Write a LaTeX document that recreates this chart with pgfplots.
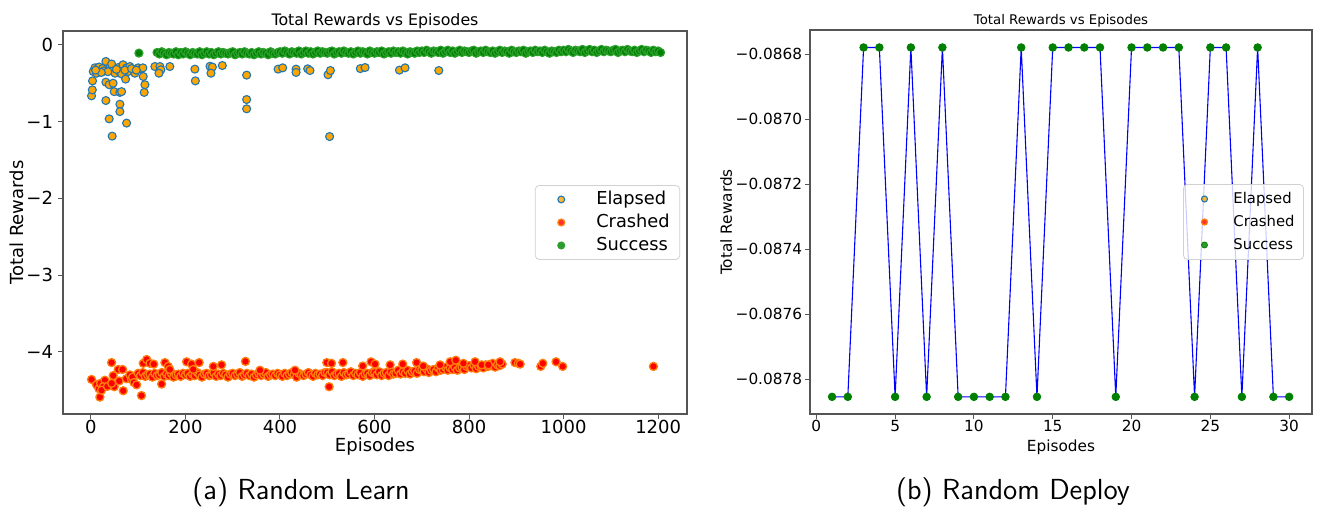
\documentclass[border=0pt]{standalone}
\usepackage{pgfplots}
\pgfplotsset{compat=1.18}
\usepackage{fontspec}
\setmainfont{DejaVu Sans}
\definecolor{mplblue}{HTML}{1F77B4}
\definecolor{mplorange}{HTML}{FF7F0E}
\definecolor{mplgreen}{HTML}{2CA02C}
\definecolor{orangefill}{HTML}{FFA500}
\definecolor{greenfill}{HTML}{008000}
\definecolor{spine}{HTML}{555555}
\pgfplotsset{
  common/.style={
    scale only axis,
    axis line style={draw=spine, line width=0.6pt},
    tick style={draw=spine, line width=0.5pt},
    major tick length=2.45pt,
    tick align=outside,
    xtick pos=bottom, ytick pos=left,
    legend cell align=left,
    every axis title shift=0pt,
    xticklabel style={yshift=3pt},
    scaled ticks=false,
  },
  elapsed/.style={only marks, mark=*, mark size=2pt, mark options={fill=orangefill, draw=mplblue, line width=0.55pt}},
  crashed/.style={only marks, mark=*, mark size=2pt, mark options={fill=red, draw=mplorange, line width=0.65pt}},
  success/.style={only marks, mark=*, mark size=2pt, mark options={fill=greenfill, draw=mplgreen, line width=0.6pt}},
}
\begin{document}
\begin{tikzpicture}
\useasboundingbox (-31.5pt,-50pt) rectangle (630pt,207pt);
% ---------------- left ----------------
\begin{axis}[common,
  at={(0pt,0pt)}, anchor=south west,
  width=312pt, height=191.5pt,
  xmin=-59, xmax=1261, ymin=-4.81, ymax=0.18,
  xtick={0,200,400,600,800,1000,1200},
  xticklabels={0,200,400,600,800,1000,1200},
  ytick={-4,-3,-2,-1,0},
  yticklabels={−4,−3,−2,−1,0},
  ticklabel style={font=\fontsize{9}{10}\selectfont},
  yticklabel style={xshift=1pt},
  xlabel={Episodes}, ylabel={Total Rewards},
  label style={font=\fontsize{9}{10}\selectfont},
  xlabel style={at={(axis description cs:0.5,-0.0862)}, anchor=center},
  ylabel style={at={(axis description cs:-0.0737,0.5)}, anchor=center},
  title={Total Rewards vs Episodes},
  title style={font=\fontsize{7.9}{9}\selectfont, at={(axis description cs:0.5,1.027)}, anchor=center},
  legend image code/.code={\path[draw=none,fill=none] (-9.5pt,-3pt) rectangle (9.5pt,3pt); \draw[#1,only marks,mark size=1.7pt] plot coordinates {(0pt,0pt)};},
  legend style={at={(0.989,0.5)}, anchor=east, font=\fontsize{8.9}{10}\selectfont,
    draw=black!18, rounded corners=2pt, fill=white, fill opacity=0.8, text opacity=1,
    inner xsep=3.5pt, inner ysep=1.25pt, row sep=0pt,
    nodes={inner sep=1.5pt, text height=6.6pt, text depth=1.9pt},
    /tikz/every odd column/.append style={column sep=6.5pt}},
]
\addplot[elapsed] coordinates {
(1.4,-0.665)(3,-0.587)(3.5,-0.47)(5,-0.348)(8.5,-0.30)(12,-0.37)(15.5,-0.296)(19,-0.326)(17.6,-0.29)
(31.7,-0.217)(33,-0.326)(40,-0.30)(43.8,-0.25)(47,-0.34)(58,-0.296)(68,-0.26)(75.5,-0.30)(82.5,-0.283)
(89.5,-0.326)(100,-0.30)(107,-0.313)(110,-0.30)(51,-0.37)(61,-0.348)(65,-0.38)(79,-0.348)(93,-0.37)
(25,-0.31)(28,-0.34)(36,-0.35)(54,-0.32)(72,-0.33)(86,-0.31)(96,-0.33)(22,-0.36)(10,-0.33)
(31.7,-0.487)(38.7,-0.52)(47,-0.50)(73.4,-0.447)(49.3,-0.61)(61.4,-0.62)(65,-0.61)(31.7,-0.726)
(61.4,-0.774)(61.4,-0.87)(38.7,-0.965)(75.5,-1.02)(45,-1.19)
(110.7,-0.413)(114.3,-0.52)(112.8,-0.62)(135.4,-0.283)(146,-0.283)(148,-0.326)(144,-0.37)(167,-0.283)
(220,-0.317)(221,-0.47)(252,-0.28)(257,-0.29)(254,-0.37)(278,-0.27)
(329.5,-0.395)(329.5,-0.713)(329.5,-0.834)(396,-0.317)(405.7,-0.30)(434,-0.317)(434,-0.36)
(458.6,-0.313)(463.5,-0.335)(501.6,-0.39)(506.7,-0.335)(505,-1.195)(570,-0.31)(580,-0.296)
(652.7,-0.33)(664.6,-0.30)(736,-0.335)
};
\addlegendentry{Elapsed}
\addplot[crashed] coordinates {
(1.4,-4.36)(12,-4.43)(19,-4.59)(17,-4.48)(20.5,-4.41)(29.6,-4.37)(26,-4.455)(22.6,-4.50)(35,-4.45)
(43.8,-4.14)(47.2,-4.31)(49.4,-4.455)(44,-4.41)(57.8,-4.23)(60,-4.38)(67,-4.23)(68.4,-4.507)(75,-4.35)
(82.5,-4.30)(86,-4.36)(88,-4.33)(91,-4.40)(96.7,-4.43)(107,-4.57)
(100,-4.28)(105,-4.31)(110,-4.27)(115,-4.32)(120,-4.30)(125,-4.29)(130,-4.33)(135,-4.28)(140,-4.31)(145,-4.30)
(150,-4.27)(155,-4.32)(160,-4.29)(165,-4.31)(170,-4.28)(175,-4.33)(180,-4.30)(185,-4.29)(190,-4.32)(195,-4.28)
(200,-4.30)(205,-4.28)(210,-4.32)(215,-4.29)(220,-4.31)(225,-4.27)(230,-4.30)(235,-4.33)(240,-4.29)(245,-4.28)
(250,-4.31)(255,-4.30)(260,-4.27)(265,-4.32)(270,-4.29)(275,-4.31)(280,-4.28)(285,-4.30)(290,-4.33)(295,-4.29)
(300,-4.28)(305,-4.31)(310,-4.29)(315,-4.27)(320,-4.32)(325,-4.30)(330,-4.28)(335,-4.31)(340,-4.29)(345,-4.33)
(350,-4.30)(355,-4.28)(360,-4.31)(365,-4.29)(370,-4.27)(375,-4.32)(380,-4.30)(385,-4.29)(390,-4.31)(395,-4.28)
(400,-4.30)(405,-4.32)(410,-4.28)(415,-4.31)(420,-4.29)(425,-4.27)(430,-4.30)(435,-4.33)(440,-4.28)(445,-4.30)
(450,-4.31)(455,-4.29)(460,-4.27)(465,-4.30)(470,-4.32)(475,-4.28)(480,-4.30)(485,-4.29)(490,-4.31)(495,-4.27)
(500,-4.27)(505,-4.30)(510,-4.26)(515,-4.31)(520,-4.29)(525,-4.28)(530,-4.32)(535,-4.27)(540,-4.30)(545,-4.29)
(550,-4.26)(555,-4.31)(560,-4.28)(565,-4.30)(570,-4.27)(575,-4.32)(580,-4.29)(585,-4.28)(590,-4.31)(595,-4.27)
(600,-4.27)(605,-4.30)(610,-4.26)(615,-4.31)(620,-4.28)(625,-4.27)(630,-4.31)(635,-4.26)(640,-4.29)(645,-4.28)
(650,-4.24)(655,-4.29)(660,-4.26)(665,-4.28)(670,-4.24)(675,-4.29)(680,-4.26)(685,-4.25)(690,-4.28)(695,-4.23)
(700,-4.23)(705,-4.26)(710,-4.22)(715,-4.27)(720,-4.24)(725,-4.23)(730,-4.26)(735,-4.21)(740,-4.24)(745,-4.23)
(750,-4.20)(755,-4.24)(760,-4.21)(765,-4.23)(770,-4.20)(775,-4.24)(780,-4.21)(785,-4.20)(790,-4.23)(795,-4.19)
(800,-4.18)(805,-4.21)(810,-4.17)(815,-4.22)(820,-4.19)(825,-4.18)(830,-4.21)(835,-4.17)(840,-4.19)(845,-4.18)
(850,-4.15)(855,-4.20)(860,-4.17)(865,-4.18)(870,-4.16)
(110.7,-4.15)(118,-4.10)(125,-4.15)(133,-4.16)(149.6,-4.42)(156.6,-4.14)(163.6,-4.19)(167,-4.23)
(202.5,-4.13)(213,-4.16)(229,-4.14)(216.5,-4.23)(259,-4.19)(276.5,-4.17)(327,-4.125)(357.7,-4.24)(431.7,-4.24)
(499,-4.14)(509,-4.15)(533,-4.14)(504,-4.455)(575,-4.185)(592.6,-4.13)(601,-4.16)(633,-4.17)(659.6,-4.16)
(689,-4.14)(703,-4.185)(738.6,-4.17)(760,-4.13)(772,-4.11)(788,-4.15)(812.7,-4.13)(826.8,-4.17)(840.8,-4.17)
(865.6,-4.13)(897,-4.14)(904,-4.15)(908,-4.16)(951.7,-4.19)(956,-4.15)(984,-4.13)(998,-4.19)(1190,-4.19)
};
\addlegendentry{Crashed}
\addplot[success] coordinates {
(101.6,-0.108)
(140,-0.10)(145,-0.12)(150,-0.09)(155,-0.11)(160,-0.13)(165,-0.10)(170,-0.11)(175,-0.12)(180,-0.09)(185,-0.13)
(190,-0.10)(195,-0.12)(200,-0.09)(205,-0.11)(210,-0.13)(215,-0.10)(220,-0.11)(225,-0.12)(230,-0.09)(235,-0.13)
(240,-0.11)(245,-0.09)(250,-0.12)(255,-0.10)(260,-0.13)(265,-0.11)(270,-0.09)(275,-0.12)(280,-0.10)(285,-0.11)
(290,-0.12)(295,-0.10)(300,-0.09)(305,-0.13)(310,-0.11)(315,-0.10)(320,-0.12)(325,-0.09)(330,-0.11)(335,-0.12)
(340,-0.10)(345,-0.13)(350,-0.11)(355,-0.09)(360,-0.12)(365,-0.10)(370,-0.11)(375,-0.13)(380,-0.09)(385,-0.11)
(390,-0.12)(395,-0.10)
(400,-0.09)(405,-0.11)(410,-0.08)(415,-0.10)(420,-0.12)(425,-0.09)(430,-0.10)(435,-0.11)(440,-0.08)(445,-0.12)
(450,-0.10)(455,-0.08)(460,-0.11)(465,-0.09)(470,-0.12)(475,-0.10)(480,-0.08)(485,-0.11)(490,-0.09)(495,-0.10)
(500,-0.11)(505,-0.09)(510,-0.08)(515,-0.12)(520,-0.10)(525,-0.09)(530,-0.11)(535,-0.08)(540,-0.10)(545,-0.11)
(550,-0.09)(555,-0.12)(560,-0.10)(565,-0.08)(570,-0.11)(575,-0.09)(580,-0.10)(585,-0.12)(590,-0.08)(595,-0.10)
(600,-0.11)(605,-0.09)(610,-0.10)(615,-0.08)(620,-0.12)(625,-0.10)(630,-0.09)(635,-0.11)(640,-0.08)(645,-0.10)
(650,-0.09)(655,-0.11)(660,-0.08)(665,-0.10)(670,-0.12)(675,-0.09)(680,-0.10)(685,-0.11)(690,-0.08)(695,-0.10)
(700,-0.08)(705,-0.10)(710,-0.07)(715,-0.09)(720,-0.11)(725,-0.08)(730,-0.09)(735,-0.10)(740,-0.07)(745,-0.11)
(750,-0.09)(755,-0.07)(760,-0.10)(765,-0.08)(770,-0.11)(775,-0.09)(780,-0.07)(785,-0.10)(790,-0.08)(795,-0.09)
(800,-0.10)(805,-0.08)(810,-0.07)(815,-0.11)(820,-0.09)(825,-0.08)(830,-0.10)(835,-0.07)(840,-0.09)(845,-0.10)
(850,-0.08)(855,-0.11)(860,-0.09)(865,-0.07)(870,-0.10)(875,-0.08)(880,-0.09)(885,-0.11)(890,-0.07)(895,-0.09)
(900,-0.10)(905,-0.08)(910,-0.09)(915,-0.07)(920,-0.11)(925,-0.09)(930,-0.08)(935,-0.10)(940,-0.07)(945,-0.09)
(950,-0.08)(955,-0.10)(960,-0.07)(965,-0.09)(970,-0.11)(975,-0.08)(980,-0.09)(985,-0.10)(990,-0.07)(995,-0.09)
(1000,-0.07)(1005,-0.09)(1010,-0.06)(1015,-0.08)(1020,-0.10)(1025,-0.07)(1030,-0.08)(1035,-0.09)(1040,-0.06)(1045,-0.10)
(1050,-0.08)(1055,-0.06)(1060,-0.09)(1065,-0.07)(1070,-0.10)(1075,-0.08)(1080,-0.06)(1085,-0.09)(1090,-0.07)(1095,-0.08)
(1100,-0.09)(1105,-0.07)(1110,-0.06)(1115,-0.10)(1120,-0.08)(1125,-0.07)(1130,-0.09)(1135,-0.06)(1140,-0.08)(1145,-0.09)
(1150,-0.07)(1155,-0.10)(1160,-0.08)(1165,-0.06)(1170,-0.09)(1175,-0.07)(1180,-0.08)(1185,-0.10)(1190,-0.07)(1195,-0.09)
(1200,-0.08)(1205,-0.10)
};
\addlegendentry{Success}
\end{axis}
% ---------------- right ----------------
\begin{axis}[common,
  at={(373.5pt,0pt)}, anchor=south west,
  width=251pt, height=192pt,
  xmin=-0.4, xmax=31.45, ymin=-0.0879068, ymax=-0.0867252,
  xtick={0,5,10,15,20,25,30},
  xticklabels={0,5,10,15,20,25,30},
  ytick={-0.0878,-0.0876,-0.0874,-0.0872,-0.0870,-0.0868},
  yticklabels={−0.0878,−0.0876,−0.0874,−0.0872,−0.0870,−0.0868},
  ticklabel style={font=\fontsize{7.65}{9}\selectfont},
  yticklabel style={xshift=2pt},
  xlabel={Episodes}, ylabel={Total Rewards},
  label style={font=\fontsize{7.65}{9}\selectfont},
  xlabel style={at={(axis description cs:0.5,-0.0859)}, anchor=center},
  ylabel style={at={(axis description cs:-0.167,0.5)}, anchor=center},
  title={Total Rewards vs Episodes},
  title style={font=\fontsize{6.65}{8}\selectfont, at={(axis description cs:0.5,1.024)}, anchor=center},
  legend image code/.code={\path[draw=none,fill=none] (-7.5pt,-3pt) rectangle (7.5pt,3pt); \draw[#1,only marks,mark size=1.5pt] plot coordinates {(0pt,0pt)};},
  legend style={at={(0.984,0.5)}, anchor=east, font=\fontsize{7.4}{9}\selectfont,
    draw=black!18, rounded corners=2pt, fill=white, fill opacity=0.8, text opacity=1,
    inner xsep=3pt, inner ysep=1.5pt, row sep=0pt,
    nodes={inner sep=1.5pt, text height=6.6pt, text depth=1.9pt},
    /tikz/every odd column/.append style={column sep=5.5pt}},
]
\addplot[blue, line width=0.55pt, mark=none, forget plot] coordinates {
(1,-0.087854)(2,-0.087854)(3,-0.086779)(4,-0.086779)(5,-0.087854)(6,-0.086779)(7,-0.087854)(8,-0.086779)
(9,-0.087854)(10,-0.087854)(11,-0.087854)(12,-0.087854)(13,-0.086779)(14,-0.087854)(15,-0.086779)
(16,-0.086779)(17,-0.086779)(18,-0.086779)(19,-0.087854)(20,-0.086779)(21,-0.086779)(22,-0.086779)
(23,-0.086779)(24,-0.087854)(25,-0.086779)(26,-0.086779)(27,-0.087854)(28,-0.086779)(29,-0.087854)(30,-0.087854)
};
\addlegendimage{elapsed}
\addlegendentry{Elapsed}
\addlegendimage{crashed}
\addlegendentry{Crashed}
\addplot[only marks, mark=*, mark size=1.9pt, mark options={fill=greenfill, draw=greenfill}] coordinates {
(1,-0.087854)(2,-0.087854)(3,-0.086779)(4,-0.086779)(5,-0.087854)(6,-0.086779)(7,-0.087854)(8,-0.086779)
(9,-0.087854)(10,-0.087854)(11,-0.087854)(12,-0.087854)(13,-0.086779)(14,-0.087854)(15,-0.086779)
(16,-0.086779)(17,-0.086779)(18,-0.086779)(19,-0.087854)(20,-0.086779)(21,-0.086779)(22,-0.086779)
(23,-0.086779)(24,-0.087854)(25,-0.086779)(26,-0.086779)(27,-0.087854)(28,-0.086779)(29,-0.087854)(30,-0.087854)
};
\addlegendentry{Success}
\end{axis}
\node[font=\sffamily\fontsize{14.5}{17}\selectfont, anchor=center] at (119pt,-39pt) {(a) Random Learn};
\node[font=\sffamily\fontsize{14.5}{17}\selectfont, anchor=center] at (475pt,-39pt) {(b) Random Deploy};
\end{tikzpicture}
\end{document}
